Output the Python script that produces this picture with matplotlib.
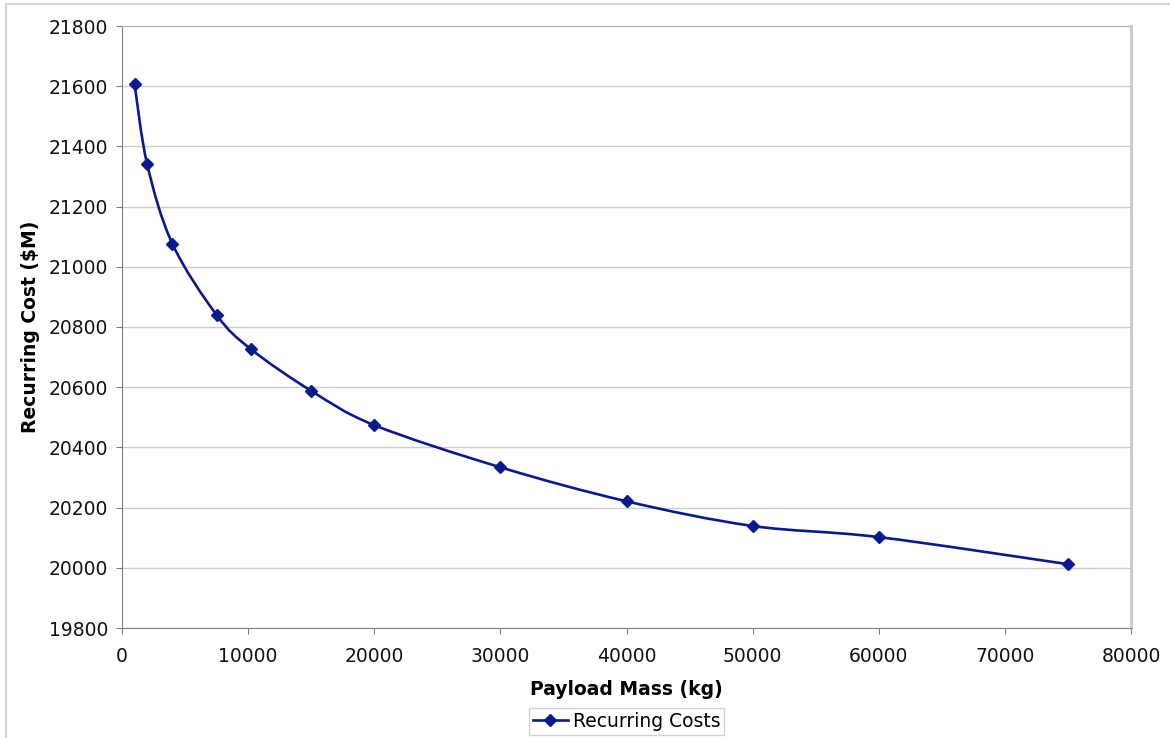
import numpy as np
import matplotlib
matplotlib.use("Agg")
import matplotlib.pyplot as plt
from matplotlib.path import Path
from matplotlib.patches import PathPatch, Rectangle
from matplotlib.lines import Line2D

# payload mass (kg) vs recurring cost ($M)
payload_kg = [1000, 2000, 4000, 7500, 10200, 15000, 20000, 30000, 40000, 50000, 60000, 75000]
recurring_cost = [21606, 21340, 21076, 20840, 20727, 20588, 20474, 20334, 20221, 20139, 20102, 20012]

X_MAX = 80000
Y_MIN, Y_MAX = 19800, 21800
LINE_COLOR = "#0A1A8E"


def smooth_path(xs, ys, sx, sy):
    # excel-style smoothed line: cubic bezier through each point,
    # tangents taken from neighbours in (scaled) screen space
    pts = np.column_stack([np.asarray(xs) / sx, np.asarray(ys) / sy])
    n = len(pts)
    verts = [pts[0]]
    codes = [Path.MOVETO]
    for i in range(n - 1):
        p0 = pts[i - 1] if i > 0 else pts[i]
        p1, p2 = pts[i], pts[i + 1]
        p3 = pts[i + 2] if i + 2 < n else pts[i + 1]
        c1 = p1 + (p2 - p0) / 6.0
        c2 = p2 - (p3 - p1) / 6.0
        verts += [c1, c2, p2]
        codes += [Path.CURVE4] * 3
    verts = np.array(verts) * [sx, sy]
    return Path(verts, codes)


plt.rcParams['font.family'] = ['DejaVu Sans']
fig = plt.figure(figsize=(11.7, 7.38), dpi=100)

# outer chart border (right and bottom edges fall outside the picture)
fig.patches.append(Rectangle((6 / 1170, -0.05), 1.1, 1.05 - 4 / 738,
                             transform=fig.transFigure, fill=False,
                             edgecolor="#d4d4d4", linewidth=1.5))

ax = fig.add_axes([122 / 1170, 110 / 738, 1009 / 1170, 602 / 738])
ax.set_xlim(0, X_MAX)
ax.set_ylim(Y_MIN, Y_MAX)
ax.set_xticks(np.arange(0, X_MAX + 1, 10000))
ax.set_yticks(np.arange(Y_MIN, Y_MAX + 1, 200))
ax.yaxis.grid(True, color="#cccccc", linewidth=1)
ax.set_axisbelow(True)

for side in ["left", "bottom"]:
    ax.spines[side].set_color("#808080")
ax.spines["top"].set_color("#b0b0b0")
ax.spines["right"].set_color("#c8c8c8")
ax.spines["right"].set_linewidth(2)

ax.tick_params(axis="both", labelsize=13.5, length=4, color="#808080",
               labelcolor="#111111")
ax.tick_params(axis="x", pad=9.5)
ax.tick_params(axis="y", pad=6)

# scale so tangents are computed in plot-area pixel space
sx = X_MAX / 1009.0
sy = (Y_MAX - Y_MIN) / 602.0
path = smooth_path(payload_kg, recurring_cost, sx, sy)
ax.add_patch(PathPatch(path, facecolor="none", edgecolor=LINE_COLOR, linewidth=1.9))
ax.plot(payload_kg, recurring_cost, linestyle="none", marker="D", markersize=6.3,
        color=LINE_COLOR)

ax.set_xlabel("Payload Mass (kg)", fontsize=13.5, fontweight="bold", labelpad=10)
ax.set_ylabel("Recurring Cost ($M)", fontsize=13.5, fontweight="bold", labelpad=6)

handle = Line2D([], [], color=LINE_COLOR, marker="D", markersize=6.3, linewidth=1.9)
leg = fig.legend([handle], ["Recurring Costs"], loc="upper center",
                 bbox_to_anchor=(626.5 / 1170, 1 - 708 / 738),
                 bbox_transform=fig.transFigure, fontsize=13.5, frameon=True,
                 fancybox=False, edgecolor="#c8c8c8", handlelength=1.9,
                 borderpad=0.2, handletextpad=0.25, borderaxespad=0)
leg.get_frame().set_linewidth(1)

fig.savefig("out.png", dpi=100)
